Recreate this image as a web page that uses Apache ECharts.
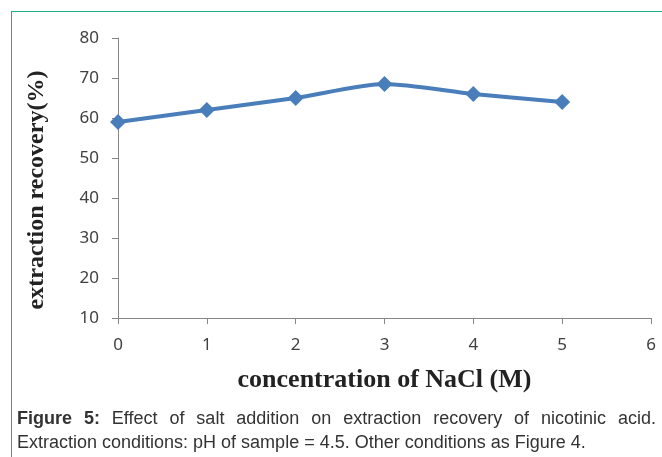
<!DOCTYPE html>
<html>
<head>
<meta charset="utf-8">
<script src="https://cdn.jsdelivr.net/npm/echarts@6/dist/echarts.min.js"></script>
<style>
  html, body { margin: 0; padding: 0; background: #fff; }
  #wrap { position: relative; width: 662px; height: 457px; overflow: hidden; }
  #frame { position: absolute; left: 11px; top: 11px; right: -5px; bottom: -5px; z-index: 2;
    border-top: 1.5px solid #1fae8c; border-left: 1.5px solid #1fae8c; pointer-events: none; }
  #chart { position: absolute; left: 0; top: 0; width: 662px; height: 457px; z-index: 1; }
  #caption { position: absolute; left: 17px; top: 406px; width: 639px; z-index: 3;
    font-family: "Liberation Sans", Arial, sans-serif; font-size: 18px; color: #333; line-height: 24px; }
  #caption .l1 { text-align: justify; text-align-last: justify; white-space: nowrap; }
</style>
</head>
<body>
<div id="wrap">
  <div id="chart"></div>
  <div id="frame"></div>
  <div id="caption">
    <div class="l1"><b>Figure 5:</b> Effect of salt addition on extraction recovery of nicotinic acid.</div>
    <div>Extraction conditions: pH of sample = 4.5. Other conditions as Figure 4.</div>
  </div>
</div>
<script>
// NaCl concentration (M) vs extraction recovery (%)
const naclConc = [0, 1, 2, 3, 4, 5]
const recovery = [59, 62, 65, 68.5, 66, 64]

const chart = echarts.init(document.getElementById('chart'), null, { renderer: 'canvas' })

const axisColor = '#868686'
const labelStyle = { color: '#404040', fontSize: 17, fontFamily: 'Noto Sans' }

chart.setOption({
  animation: false,
  backgroundColor: 'transparent',
  grid: { left: 118, right: 11, top: 38, bottom: 139 },
  xAxis: {
    type: 'value',
    min: 0, max: 6, interval: 1,
    name: 'concentration of NaCl (M)',
    nameLocation: 'middle',
    nameGap: 49,
    nameTextStyle: { fontFamily: 'Liberation Serif', fontWeight: 'bold', fontSize: 26, color: '#222' },
    axisLine: { lineStyle: { color: axisColor, width: 1 } },
    axisTick: { length: 6, lineStyle: { color: axisColor } },
    axisLabel: { ...labelStyle, margin: 19 },
    splitLine: { show: false },
  },
  yAxis: {
    type: 'value',
    min: 10, max: 80, interval: 10,
    name: 'extraction recovery(%)',
    nameLocation: 'middle',
    nameGap: 69,
    nameTextStyle: { fontFamily: 'Liberation Serif', fontWeight: 'bold', fontSize: 24, color: '#222', padding: [0, 24, 0, 0] },
    axisLine: { show: true, lineStyle: { color: axisColor, width: 1 } },
    axisTick: { show: true, length: 6, lineStyle: { color: axisColor } },
    axisLabel: { ...labelStyle, margin: 19 },
    splitLine: { show: false },
  },
  series: [{
    type: 'line',
    data: naclConc.map((x, i) => [x, recovery[i]]),
    smooth: 0.25,
    symbol: 'diamond',
    symbolSize: 16,
    lineStyle: { color: '#4a7ebb', width: 4 },
    itemStyle: { color: '#4a7ebb' },
  }],
})
</script>
</body>
</html>
